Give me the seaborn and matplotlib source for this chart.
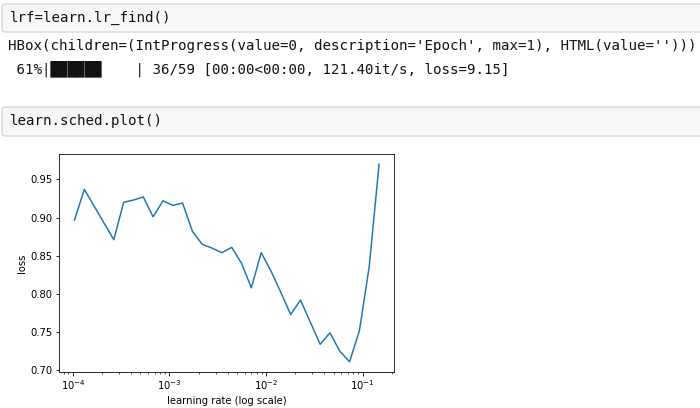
import numpy as np
import seaborn as sns
import matplotlib.pyplot as plt
from matplotlib.patches import FancyBboxPatch
from matplotlib.transforms import Affine2D

# learning rates from the lr finder (log spaced), and recorded losses
lrs = [1.0398e-4, 1.3141e-4, 1.6610e-4, 2.0993e-4, 2.6532e-4, 3.3535e-4,
       4.2384e-4, 5.3570e-4, 6.7707e-4, 8.5573e-4, 1.0816e-3, 1.3670e-3,
       1.7277e-3, 2.1837e-3, 2.7600e-3, 3.4883e-3, 4.4089e-3, 5.5724e-3,
       7.0429e-3, 8.9014e-3, 1.1250e-2, 1.4219e-2, 1.7971e-2, 2.2714e-2,
       2.8708e-2, 3.6284e-2, 4.5859e-2, 5.7961e-2, 7.3256e-2, 9.2588e-2,
       1.1702e-1, 1.4790e-1]
losses = [0.897, 0.937, 0.915, 0.893, 0.871, 0.920, 0.923, 0.927,
          0.901, 0.922, 0.916, 0.919, 0.882, 0.865, 0.860, 0.854,
          0.861, 0.840, 0.808, 0.854, 0.830, 0.802, 0.773, 0.792,
          0.763, 0.734, 0.749, 0.725, 0.711, 0.752, 0.836, 0.970]

cell1 = "lrf=learn.lr_find()"
out1 = "HBox(children=(IntProgress(value=0, description='Epoch', max=1), HTML(value='')))"
out2 = " 61%|\u2588\u2588\u2588\u2588\u2588\u2588    | 36/59 [00:00<00:00, 121.40it/s, loss=9.15]"
cell2 = "learn.sched.plot()"

W, H = 700, 408
fig = plt.figure(figsize=(W / 100, H / 100), dpi=100)
# pixel coords, origin top-left
pix = Affine2D().scale(1, -1).translate(0, H).scale(1 / 100) + fig.dpi_scale_trans

mono = dict(family="DejaVu Sans Mono", fontsize=10.2, color="#111111", va="center")

# input cells
for y0, y1, txt in [(4, 32, cell1), (107, 136, cell2)]:
    box = FancyBboxPatch((2, y0), 710, y1 - y0, boxstyle="round,pad=0,rounding_size=3",
                         transform=pix, facecolor="#f7f7f7", edgecolor="#cfcfcf",
                         linewidth=0.8)
    fig.patches.append(box)
    fig.text(10, (y0 + y1) / 2, txt, transform=pix, **mono)

fig.text(8, 46, out1, transform=pix, **mono)
fig.text(8, 69, out2, transform=pix, **mono)

# the plot
ax = fig.add_axes([59.3 / W, (H - 371.7) / H, 335 / W, 217.4 / H])
sns.lineplot(x=lrs, y=losses, ax=ax, color="#1f77b4", linewidth=1.08, sort=False)
ax.set_xscale("log")
ax.set_xlabel("learning rate (log scale)", fontsize=7.2, labelpad=2.5)
ax.set_ylabel("loss", fontsize=7.2, labelpad=2.5)
ax.tick_params(labelsize=7.2, width=0.58, length=2.52, pad=2.5)
ax.tick_params(which="minor", width=0.45, length=1.44)
for s in ax.spines.values():
    s.set_linewidth(0.58)

fig.savefig("out.png", dpi=100)
